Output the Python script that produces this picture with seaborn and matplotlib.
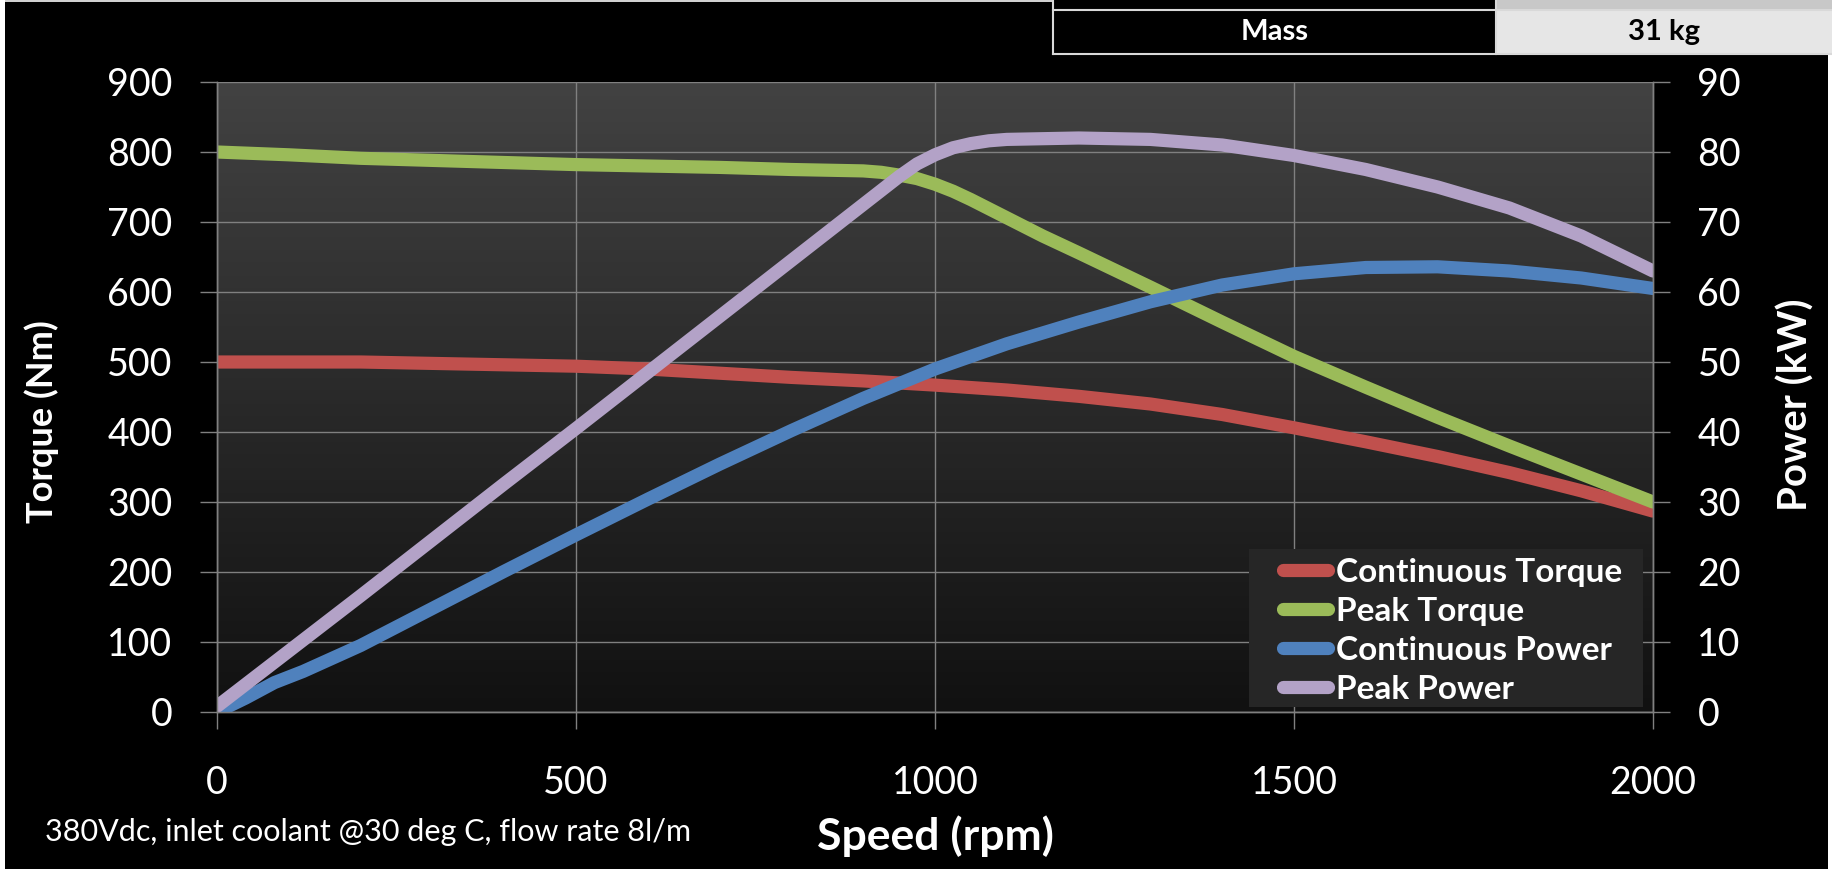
"""
Motor performance curve: torque and power vs speed
"""

import numpy as np
import matplotlib
matplotlib.use('Agg')
import matplotlib.pyplot as plt
import seaborn as sns
from matplotlib.colors import LinearSegmentedColormap
from matplotlib.patches import Rectangle
from matplotlib.lines import Line2D

# --- data ---
rpm_ct = [0, 100, 200, 300, 400, 500, 600, 700, 800, 900, 1000, 1100, 1200,
          1300, 1400, 1500, 1600, 1700, 1800, 1900, 2000]
cont_torque = [500, 500, 500, 498, 496, 494, 490, 484, 478, 473, 467, 460, 451,
               440, 425, 406, 386, 365, 342, 316, 287]

rpm_pt = [0, 100, 200, 300, 400, 500, 600, 700, 800, 850, 900, 925, 950, 975,
          1000, 1025, 1050, 1075, 1100, 1150, 1200, 1300, 1400, 1500, 1600,
          1700, 1800, 1900, 2000]
peak_torque = [800, 796, 791, 788, 785, 782, 780, 778, 775, 774, 773, 771, 767, 762,
               754, 744, 732, 719, 706, 680, 656, 607, 557, 508, 464,
               421, 380, 340, 300]

rpm_cp = [0, 40, 80, 120, 200, 300, 400, 500, 600, 700, 800, 900, 1000,
          1100, 1200, 1300, 1400, 1500, 1600, 1700, 1800, 1900, 2000]
cont_power = [0, 2, 4.2, 5.8, 9.5, 14.8, 20.1, 25.3, 30.4, 35.4, 40.2, 44.8, 49,
              52.6, 55.7, 58.6, 61, 62.6, 63.5, 63.6, 63, 62, 60.5]

rpm_pp = [0, 100, 200, 300, 400, 500, 600, 700, 800, 900, 925, 950, 975, 1000,
          1025, 1050, 1075, 1100, 1200, 1300, 1400, 1500, 1600, 1700, 1800, 1900, 2000]
peak_power = [0.8, 8.7, 16.6, 24.6, 32.6, 40.5, 48.5, 56.5, 64.5, 72.5, 74.5, 76.5, 78.3, 79.6,
              80.6, 81.2, 81.6, 81.8, 82, 81.8, 81, 79.5, 77.5, 75, 72, 68, 63]

series_labels = ['Continuous Torque', 'Peak Torque', 'Continuous Power', 'Peak Power']
series_colors = ['#C0504D', '#9BBB59', '#4F81BD', '#B3A2C7']

torque_ticks = list(range(0, 901, 100))
power_ticks = list(range(0, 91, 10))
speed_ticks = [0, 500, 1000, 1500, 2000]

W, H = 1833, 869
plt.rcParams['font.family'] = ['Lato', 'DejaVu Sans']


def fx(x):
    return x / W


def fy(y):
    return 1 - y / H


fig = plt.figure(figsize=(W / 100, H / 100), dpi=100, facecolor='black')

pos = [fx(217), fy(712), fx(1653) - fx(217), fy(82) - fy(712)]

# gradient background of the plot area
bg = fig.add_axes(pos, zorder=0)
grad = np.linspace(0, 1, 256).reshape(-1, 1)
cmap = LinearSegmentedColormap.from_list('bg', ['#111111', '#424242'])
bg.imshow(grad, cmap=cmap, aspect='auto', origin='lower', extent=[0, 1, 0, 1])
bg.axis('off')

ax = fig.add_axes(pos, zorder=1)
ax.patch.set_alpha(0)
ax2 = ax.twinx()

lw = 9.5
sns.lineplot(x=rpm_ct, y=cont_torque, ax=ax, color=series_colors[0], lw=lw,
             solid_capstyle='round', solid_joinstyle='round')
sns.lineplot(x=rpm_pt, y=peak_torque, ax=ax, color=series_colors[1], lw=lw,
             solid_capstyle='round', solid_joinstyle='round')
sns.lineplot(x=rpm_cp, y=cont_power, ax=ax2, color=series_colors[2], lw=lw,
             solid_capstyle='round', solid_joinstyle='round')
sns.lineplot(x=rpm_pp, y=peak_power, ax=ax2, color=series_colors[3], lw=lw,
             solid_capstyle='round', solid_joinstyle='round')

grid_c = '#808080'
ax.set_xlim(0, 2000)
ax.set_ylim(0, 900)
ax2.set_ylim(0, 90)
ax.set_xticks(speed_ticks)
ax.set_yticks(torque_ticks)
ax2.set_yticks(power_ticks)
ax.grid(True, color=grid_c, lw=1)
ax.set_axisbelow(True)

for a in (ax, ax2):
    a.set_xlabel('')
    a.set_ylabel('')
    for side in ('left', 'right', 'bottom'):
        a.spines[side].set_color(grid_c)
        a.spines[side].set_linewidth(1)
    a.spines['top'].set_visible(False)

ax.tick_params(axis='both', colors=grid_c, labelcolor='white', labelsize=27,
               length=12, width=1, direction='out')
ax.tick_params(axis='y', pad=20)
ax.tick_params(axis='x', pad=26)
ax2.tick_params(axis='y', colors=grid_c, labelcolor='white', labelsize=27,
                length=12, width=1, direction='out', pad=20)

# axis titles
fig.text(fx(42), fy(422), 'Torque (Nm)', rotation=90, ha='center', va='center',
         color='white', fontsize=26, fontweight='bold')
fig.text(fx(1796), fy(405), 'Power (kW)', rotation=90, ha='center', va='center',
         color='white', fontsize=29, fontweight='bold')
fig.text(fx(935), fy(836), 'Speed (rpm)', ha='center', va='center',
         color='white', fontsize=32, fontweight='bold')
fig.text(fx(45), fy(832), '380Vdc, inlet coolant @30 deg C, flow rate 8l/m',
         ha='left', va='center', color='white', fontsize=22)

# legend: own background box, entries on top
ax2.add_patch(Rectangle((fx(1249), fy(707)), fx(1643) - fx(1249), fy(549) - fy(707),
                        transform=fig.transFigure, facecolor='#262626',
                        edgecolor='none', zorder=10, clip_on=False))
handles = [Line2D([], [], color=c, lw=lw, solid_capstyle='round') for c in series_colors]
leg = ax2.legend(handles, series_labels, loc='lower right',
                 bbox_to_anchor=(fx(1632), fy(714)), bbox_transform=fig.transFigure,
                 borderaxespad=0, frameon=False, handlelength=1.35, handletextpad=0.25,
                 labelspacing=0.3, borderpad=0.3,
                 prop={'size': 24, 'weight': 'bold'})
leg.set_zorder(11)
for t in leg.get_texts():
    t.set_color('white')

# spec table at the top
def cell(x0, y0, x1, y1, color):
    fig.patches.append(Rectangle((fx(x0), fy(y1)), fx(x1) - fx(x0), fy(y0) - fy(y1),
                                 transform=fig.transFigure, facecolor=color,
                                 edgecolor='none', zorder=5))

cell(0, 0, 1053, 2, '#d0d0d0')
cell(1053, 0, 1496, 9, 'black')
cell(1497, 0, 1832, 9, '#c8c8c8')
cell(1053, 11, 1496, 53, 'black')
cell(1497, 11, 1832, 53, '#e6e6e6')
border = '#d9d9d9'
for y in (10, 54):
    fig.add_artist(Line2D([fx(1053), fx(1832)], [fy(y), fy(y)], color=border, lw=1.5,
                          transform=fig.transFigure, zorder=6))
for x in (1053, 1496.5):
    fig.add_artist(Line2D([fx(x), fx(x)], [fy(0), fy(54)], color=border, lw=1.5,
                          transform=fig.transFigure, zorder=6))
fig.text(fx(1275), fy(32), 'Mass', ha='center', va='center', color='white',
         fontsize=21, fontweight='bold', zorder=7)
fig.text(fx(1664), fy(32), '31 kg', ha='center', va='center', color='black',
         fontsize=21, fontweight='bold', zorder=7)

# thin white edges of the original screenshot
cell(0, 0, 5, H, 'white')
cell(1828, 55, W, H, 'white')

fig.savefig('out.png', dpi=100, facecolor='black')
